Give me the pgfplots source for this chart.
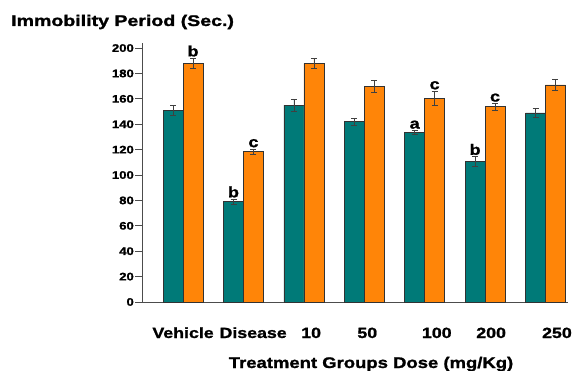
\documentclass[border=0pt]{standalone}
\usepackage{pgfplots}
\pgfplotsset{compat=1.18}
\usepackage{fontspec}
\setmainfont{Liberation Sans}[FakeStretch=1.2, BoldFeatures={FakeBold=1.3}]
\newfontfamily\titlefont{Liberation Sans}[FakeStretch=1.27, BoldFeatures={FakeBold=1.5}]
\definecolor{tealbar}{RGB}{0,122,120}
\definecolor{orangebar}{RGB}{255,133,8}
\definecolor{edge}{RGB}{50,50,50}
\pgfplotstableread{
x y e
-0.165 151 4
0.835 79 2
1.835 155 5
2.835 142 2.8
3.835 133.6 1.5
4.835 110.5 4
5.835 149 3.3
}\teal
\pgfplotstableread{
x y e
0.165 188 4
1.165 118.5 2
2.165 188 4
3.165 170 4.5
4.165 160.6 5.5
5.165 153.8 2.6
6.165 171 4.2
}\orng
\begin{document}
\begin{tikzpicture}
\useasboundingbox (0,0) rectangle (575pt,370pt);
\node[anchor=base west, inner sep=0pt, font=\titlefont\bfseries\fontsize{15.4}{18}\selectfont] at (11pt,344pt) {Immobility Period (Sec.)};
\begin{axis}[
  at={(142pt,68pt)}, anchor=south west,
  scale only axis, width=426pt, height=259pt,
  xmin=-0.68, xmax=6.373, ymin=0, ymax=204,
  axis x line*=bottom, axis y line*=left,
  axis line style={draw=black!70, line width=0.8pt},
  ytick={0,20,...,200},
  ytick style={draw=black!70, line width=0.8pt},
  tick align=outside, major tick length=7pt,
  xtick={0,1.16,2.12,3.05,4.2,5.1,6.19},
  xticklabels={Vehicle,Disease,10,50,100,200,250},
  x tick style={draw=none},
  xticklabel style={anchor=base, yshift=-29pt, font=\bfseries\fontsize{14.8}{17}\selectfont},
  yticklabel style={font=\bfseries\fontsize{10.9}{13}\selectfont, inner sep=1pt},
  /pgf/number format/assume math mode=true,
  xlabel={Treatment Groups Dose (mg/Kg)},
  xlabel style={at={(rel axis cs:0.5376,0)}, anchor=base, yshift=-66pt, font=\bfseries\fontsize{15.4}{18}\selectfont},
  ybar, bar width=0.33, bar shift=0pt,
  clip=false,
]
\addplot[fill=tealbar, draw=edge, line width=0.6pt,
  error bars/.cd, y dir=both, y explicit,
  error bar style={draw=black!75, line width=0.6pt},
  error mark options={rotate=90, mark size=3pt, draw=black!75, line width=0.6pt}]
  table[x=x, y=y, y error=e] {\teal};
\addplot[fill=orangebar, draw=edge, line width=0.6pt,
  error bars/.cd, y dir=both, y explicit,
  error bar style={draw=black!75, line width=0.6pt},
  error mark options={rotate=90, mark size=3pt, draw=black!75, line width=0.6pt}]
  table[x=x, y=y, y error=e] {\orng};
\begin{scope}[every node/.style={anchor=south, inner sep=1.5pt, font=\bfseries\fontsize{15}{17}\selectfont}]
\node at (axis cs:0.165,192) {b};
\node at (axis cs:0.835,81) {b};
\node at (axis cs:1.165,120.5) {c};
\node at (axis cs:3.835,135.1) {a};
\node at (axis cs:4.165,166.1) {c};
\node at (axis cs:4.835,114.5) {b};
\node at (axis cs:5.165,156.4) {c};
\end{scope}
\end{axis}
\end{tikzpicture}
\end{document}
